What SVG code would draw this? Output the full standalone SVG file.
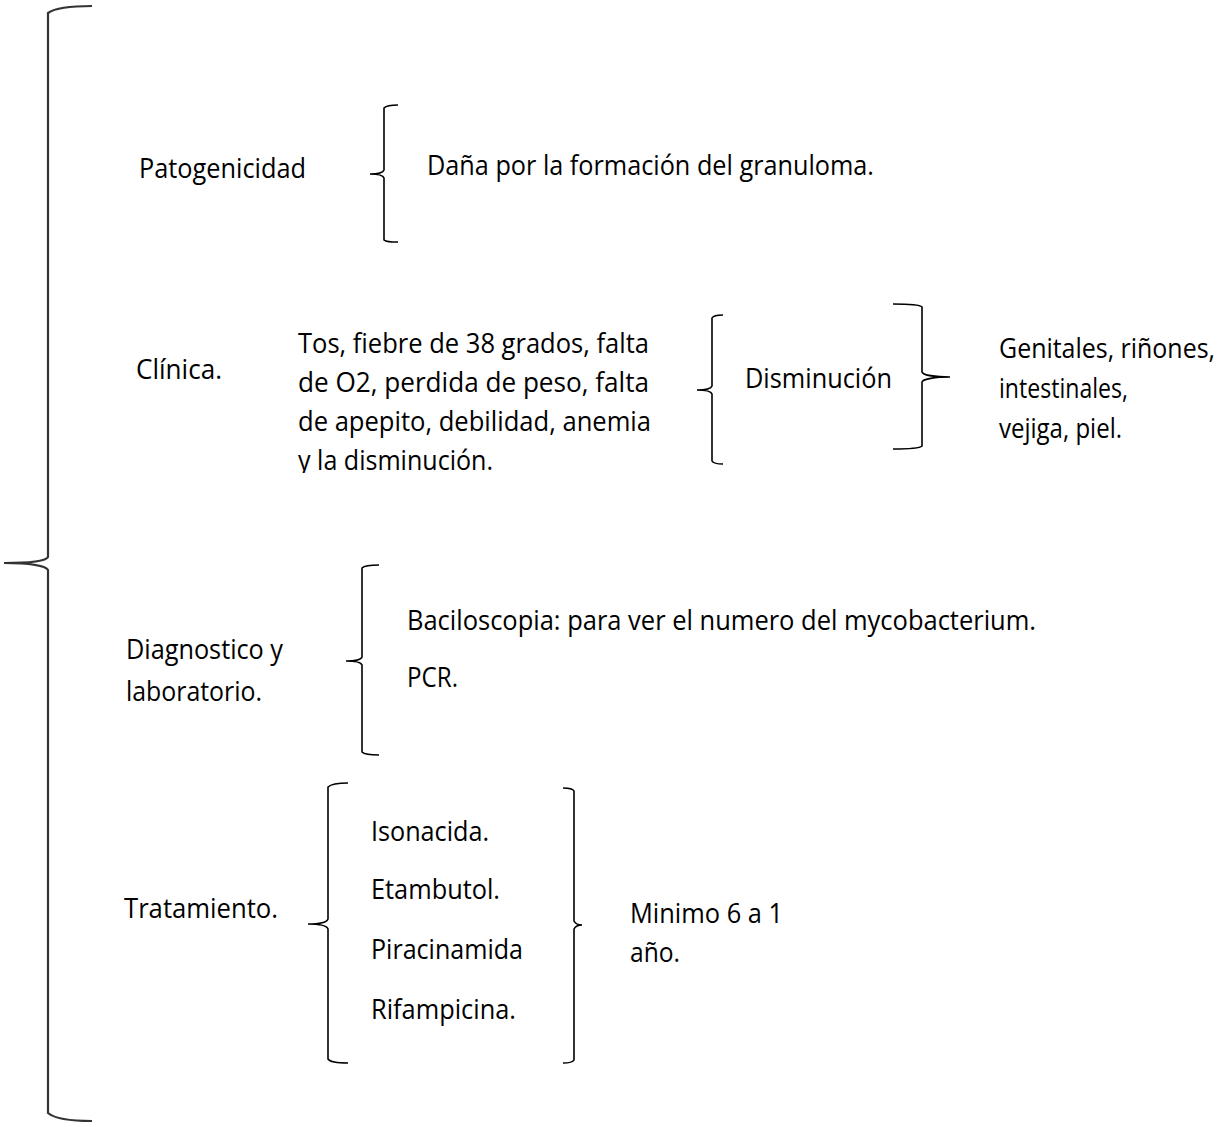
<svg xmlns="http://www.w3.org/2000/svg" width="1226" height="1127" viewBox="0 0 1226 1127">
<style>
text{font-family:"Open Sans","Liberation Sans",sans-serif;font-size:26.5px;fill:#000}
.br{fill:none;stroke:#000;stroke-width:1.6}
.big{fill:none;stroke:#333;stroke-width:2.2}
</style>
<defs><clipPath id="clipTos"><rect x="280" y="300" width="400" height="173"/></clipPath></defs>
<rect width="1226" height="1127" fill="#fff"/>
<g id="connectors">
<path class="big" d="M92,6 C70,6 55,8 48,13 L48,557 C46,561 30,563 4,563 C30,563 46,566 48,570 L48,1113 C55,1119 70,1121 92,1121"/>
<path class="br" d="M398,105 C390,105 386,106 384,108 L384,170 C383,173 378,174 370,174 C378,174 383,175 384,178 L384,240 C386,242 390,242 398,242"/>
<path class="br" d="M723,315 C716,315 713,316 712,318 L712,386 C711,389 705,390 697,390 C705,390 711,391 712,394 L712,461 C713,463 716,464 723,464"/>
<path class="br" d="M893,304 C912,304 920,305 922,307 L922,372 C923,375 935,377 950,377 C935,377 923,379 922,382 L922,446 C920,448 912,449 893,449"/>
<path class="br" d="M379,565 C368,565 364,566 362,568 L362,657 C361,660 355,661 346,661 C355,661 361,662 362,665 L362,752 C364,754 368,755 379,755"/>
<path class="br" d="M348,783 C336,783 330,785 328,787 L328,919 C327,922 320,924 308,924 C320,924 327,926 328,929 L328,1059 C330,1062 336,1063 348,1063"/>
<path class="br" d="M563,788 C570,788 573,789 574,791 L574,921 C575,923 577,925 582,925 C577,925 575,927 574,929 L574,1060 C573,1062 570,1063 563,1063"/>
</g>
<g id="patogenicidad"><text x="139" y="178" textLength="167" lengthAdjust="spacingAndGlyphs">Patogenicidad</text></g>
<g id="granuloma"><text x="427" y="175" textLength="447" lengthAdjust="spacingAndGlyphs">Daña por la formación del granuloma.</text></g>
<g id="clinica"><text x="136" y="379" textLength="86" lengthAdjust="spacingAndGlyphs">Clínica.</text></g>
<g id="sintomas" clip-path="url(#clipTos)">
<text x="298" y="353" textLength="351" lengthAdjust="spacingAndGlyphs">Tos, fiebre de 38 grados, falta</text>
<text x="298" y="392" textLength="351" lengthAdjust="spacingAndGlyphs">de O2, perdida de peso, falta</text>
<text x="298" y="431" textLength="353" lengthAdjust="spacingAndGlyphs">de apepito, debilidad, anemia</text>
<text x="298" y="470" textLength="195" lengthAdjust="spacingAndGlyphs">y la disminución.</text>
</g>
<g id="disminucion"><text x="745" y="388" textLength="147" lengthAdjust="spacingAndGlyphs">Disminución</text></g>
<g id="organos">
<text x="999" y="358" textLength="216" lengthAdjust="spacingAndGlyphs">Genitales, riñones,</text>
<text x="999" y="398" textLength="129" lengthAdjust="spacingAndGlyphs">intestinales,</text>
<text x="999" y="438" textLength="123" lengthAdjust="spacingAndGlyphs">vejiga, piel.</text>
</g>
<g id="diagnostico">
<text x="126" y="659" textLength="157" lengthAdjust="spacingAndGlyphs">Diagnostico y</text>
<text x="126" y="701" textLength="136" lengthAdjust="spacingAndGlyphs">laboratorio.</text>
</g>
<g id="pruebas">
<text x="407" y="630" textLength="629" lengthAdjust="spacingAndGlyphs">Baciloscopia: para ver el numero del mycobacterium.</text>
<text x="407" y="687" textLength="51" lengthAdjust="spacingAndGlyphs">PCR.</text>
</g>
<g id="tratamiento"><text x="124" y="918" textLength="154" lengthAdjust="spacingAndGlyphs">Tratamiento.</text></g>
<g id="farmacos">
<text x="371" y="841" textLength="118" lengthAdjust="spacingAndGlyphs">Isonacida.</text>
<text x="371" y="899" textLength="129" lengthAdjust="spacingAndGlyphs">Etambutol.</text>
<text x="371" y="959" textLength="152" lengthAdjust="spacingAndGlyphs">Piracinamida</text>
<text x="371" y="1019" textLength="145" lengthAdjust="spacingAndGlyphs">Rifampicina.</text>
</g>
<g id="duracion">
<text x="630" y="923" textLength="153" lengthAdjust="spacingAndGlyphs">Minimo 6 a 1</text>
<text x="630" y="962" textLength="50" lengthAdjust="spacingAndGlyphs">año.</text>
</g>
</svg>
